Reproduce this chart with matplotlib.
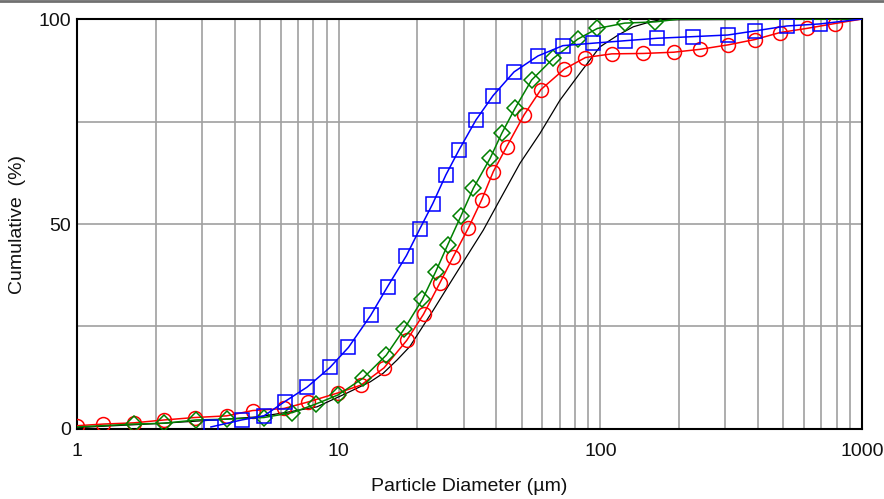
"""
Curvas acumuladas de distribución de tamaño de partícula.
"""

import matplotlib
matplotlib.use("Agg")
import matplotlib.pyplot as plt
from matplotlib.lines import Line2D
from matplotlib.ticker import LogLocator, NullFormatter, FixedLocator

plt.rcParams['font.family'] = ['Liberation Sans', 'DejaVu Sans']

# Datos (diámetro en µm, acumulado en %)
negro_x = [1.0, 1.2, 2.0, 3.0, 5.0, 6.5, 8.26, 10.7, 13.2, 14.8, 16.7, 18.7,
           23.0, 26.6, 30.8, 35.7, 41.3, 49.3, 58.8, 70.1, 83.6, 99.6, 117,
           133.6, 155, 169, 1000]
negro_y = [0.3, 0.6, 1.3, 2.0, 3.0, 4.2, 5.4, 8.7, 11.5, 13.6, 16.8, 20.1,
           29.0, 35.5, 42.0, 48.5, 55.9, 64.8, 72.1, 80.2, 86.8, 93.2, 96.1,
           98.1, 99.3, 99.8, 100]

rojo_x = [1.0, 1.26, 1.65, 2.15, 2.82, 3.73, 4.69, 6.18, 7.65, 9.94, 12.17,
          14.9, 18.2, 21.1, 24.4, 27.4, 31.3, 35.2, 39.0, 43.9, 51.1, 59.3,
          72.9, 87.7, 110.5, 146, 190.5, 240, 308, 390, 486, 614, 788, 1000]
rojo_y = [0.8, 1.2, 1.5, 2.2, 2.8, 3.2, 4.5, 5.0, 6.6, 8.8, 10.7, 14.9, 21.6,
          28.0, 35.7, 42.0, 49.0, 55.9, 62.8, 68.9, 76.6, 82.8, 87.8, 90.6,
          91.5, 91.6, 91.9, 92.6, 93.7, 95.0, 96.7, 97.7, 98.9, 100]

verde_x = [1.0, 1.65, 2.15, 2.85, 3.75, 5.18, 6.66, 8.19, 9.94, 12.4, 15.2,
           17.8, 20.9, 23.5, 26.1, 29.3, 32.7, 37.9, 42.0, 47.2, 54.6, 66.1,
           82.0, 97.5, 124, 162, 201, 1000]
verde_y = [0.5, 1.2, 1.4, 2.2, 2.4, 2.8, 4.0, 6.1, 8.3, 12.4, 18.0, 24.4,
           31.6, 38.4, 44.9, 51.9, 58.7, 66.0, 72.1, 78.2, 85.1, 90.4, 95.1,
           97.7, 99.0, 99.3, 100, 100]

azul_x = [3.25, 4.26, 5.18, 6.23, 7.57, 9.26, 10.9, 13.25, 15.37, 18.16,
          20.46, 22.9, 25.7, 28.8, 33.5, 38.9, 46.8, 57.8, 71.9, 93.7, 124,
          164.5, 226, 307, 390, 516, 690, 1000]
azul_y = [0.5, 2.2, 3.2, 6.7, 10.2, 15.0, 19.9, 27.7, 34.7, 42.3, 48.9,
          55.0, 62.0, 68.0, 75.4, 81.3, 87.1, 91.0, 93.5, 94.1, 94.7, 95.3,
          95.7, 96.1, 97.1, 98.3, 98.8, 100]

# Crear la figura
fig = plt.figure(figsize=(8.84, 4.99), dpi=100)
ax = fig.add_axes([0.0871, 0.1403, 0.8880, 0.8216])

estilo = dict(linewidth=1.1, fillstyle='none', markeredgewidth=1.1)
ax.plot(negro_x, negro_y, color='black', linewidth=0.9, zorder=3)
ax.plot(rojo_x, rojo_y, color='#ff0000', marker='o', markersize=10,
        markevery=list(range(len(rojo_x) - 1)), zorder=4, **estilo)
ax.plot(verde_x, verde_y, color='#008000', marker='D', markersize=8,
        markevery=list(range(1, len(verde_x) - 2)), zorder=5, **estilo)
ax.plot(azul_x, azul_y, color='#0000ff', marker='s', markersize=10.5,
        markevery=list(range(len(azul_x) - 1)), zorder=6, **estilo)

# Ejes
ax.set_xscale('log')
ax.set_xlim(1, 1000)
ax.set_ylim(0, 100)
ax.xaxis.set_major_locator(FixedLocator([1, 10, 100, 1000]))
ax.set_xticklabels(['1', '10', '100', '1000'])
ax.xaxis.set_minor_locator(LogLocator(base=10, subs=range(2, 10)))
ax.xaxis.set_minor_formatter(NullFormatter())
ax.set_yticks([0, 25, 50, 75, 100])
ax.set_yticklabels(['0', '', '50', '', '100'])

ax.grid(True, which='both', axis='x', color='#a0a0a0', linewidth=1.2)
ax.grid(True, which='major', axis='y', color='#a0a0a0', linewidth=1.2)
ax.set_axisbelow(True)
ax.tick_params(which='both', length=0, labelsize=14, colors='#111111')
ax.tick_params(axis='x', pad=10)
ax.tick_params(axis='y', pad=4)
for lado in ax.spines.values():
    lado.set_linewidth(1.5)
    lado.set_color('black')

ax.set_xlabel("Particle Diameter (µm)", fontsize=14, color='#111111',
              labelpad=13)
ax.set_ylabel("Cumulative  (%)", fontsize=14, color='#111111', labelpad=9)

# Línea superior del marco
fig.add_artist(Line2D([0, 1], [0.997, 0.997], color='#707070', linewidth=2))

fig.savefig("out.png", dpi=100)
